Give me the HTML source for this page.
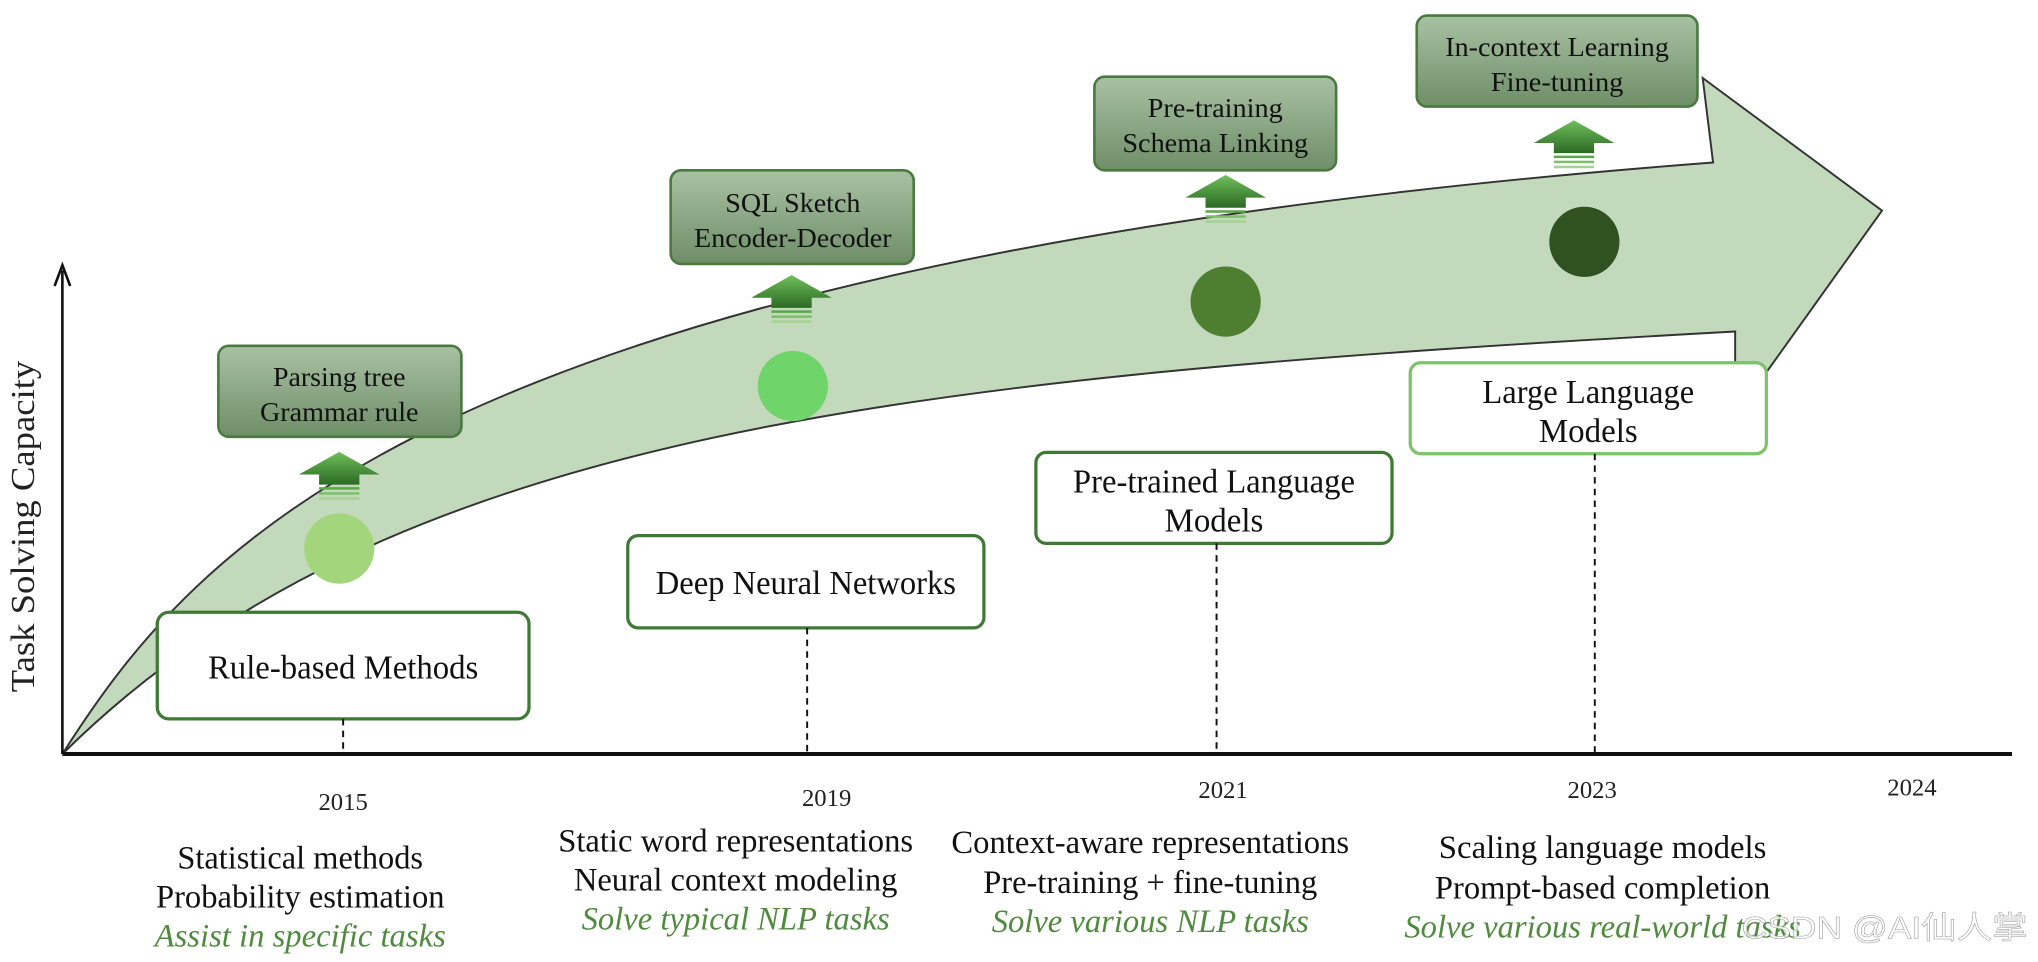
<!DOCTYPE html>
<html><head><meta charset="utf-8"><style>html,body{margin:0;padding:0;background:#fff}svg{display:block}</style></head>
<body>
<svg width="2038" height="962" viewBox="0 0 1568 740" preserveAspectRatio="none" xmlns="http://www.w3.org/2000/svg" font-family="'Liberation Serif', serif">
<defs>
<linearGradient id="g" x1="0" y1="0" x2="0" y2="1"><stop offset="0" stop-color="#a9c1a3"/><stop offset="1" stop-color="#6e8e68"/></linearGradient>
<linearGradient id="a" x1="0" y1="0" x2="0" y2="1"><stop offset="0" stop-color="#6fbf5a"/><stop offset="1" stop-color="#2c6a25"/></linearGradient>
<symbol id="up" viewBox="0 0 64 38"><polygon points="32,0 64,18 48,18 48,26 16,26 16,18 0,18" fill="url(#a)"/><rect x="16" y="28" width="32" height="2" fill="#5aa84a"/><rect x="16" y="32" width="32" height="2" fill="#7cbf6a"/><rect x="16" y="36" width="32" height="2" fill="#a5d394"/></symbol>
</defs>
<path d="M48,580 C150,420 330,200 1318,125 L1310,60 L1448,162 L1360,285 L1335,280 L1335,255 C700,290 300,330 48,580 Z" fill="#c2d9bc" stroke="#333" stroke-width="1.5"/>
<line x1="48" y1="580" x2="1548" y2="580" stroke="#111" stroke-width="3"/>
<line x1="48" y1="580" x2="48" y2="208" stroke="#111" stroke-width="2"/>
<polyline points="42,220 48,204 54,220" fill="none" stroke="#111" stroke-width="2"/>
<text transform="translate(26,405) rotate(-90)" text-anchor="middle" font-size="26" fill="#222" textLength="255" lengthAdjust="spacingAndGlyphs">Task Solving Capacity</text>
<circle cx="261" cy="422" r="27" fill="#a3d67c"/>
<circle cx="610" cy="297" r="27" fill="#6fd46a"/>
<circle cx="943" cy="232" r="27" fill="#4e7f31"/>
<circle cx="1219" cy="186" r="27" fill="#2f5220"/>
<g stroke="#4a7a40" stroke-width="2" fill="url(#g)">
<rect x="168" y="266" width="187" height="70" rx="8"/>
<rect x="516" y="131" width="187" height="72" rx="8"/>
<rect x="842" y="59" width="186" height="72" rx="8"/>
<rect x="1090" y="12" width="216" height="70" rx="8"/>
</g>
<g font-size="21" fill="#111" text-anchor="middle">
<text x="261" y="297" textLength="102" lengthAdjust="spacingAndGlyphs">Parsing tree</text><text x="261" y="324" textLength="122" lengthAdjust="spacingAndGlyphs">Grammar rule</text>
<text x="610" y="163" textLength="104" lengthAdjust="spacingAndGlyphs">SQL Sketch</text><text x="610" y="190" textLength="152" lengthAdjust="spacingAndGlyphs">Encoder-Decoder</text>
<text x="935" y="90" textLength="104" lengthAdjust="spacingAndGlyphs">Pre-training</text><text x="935" y="117" textLength="143" lengthAdjust="spacingAndGlyphs">Schema Linking</text>
<text x="1198" y="43" textLength="172" lengthAdjust="spacingAndGlyphs">In-context Learning</text><text x="1198" y="70" textLength="102" lengthAdjust="spacingAndGlyphs">Fine-tuning</text>
</g>
<use href="#up" x="230" y="347" width="62" height="38"/>
<use href="#up" x="578" y="211" width="62" height="38"/>
<use href="#up" x="912" y="134" width="62" height="38"/>
<use href="#up" x="1180" y="92" width="62" height="38"/>
<g fill="#fff" stroke="#3f7a35" stroke-width="2.5">
<rect x="121" y="471" width="286" height="82" rx="9"/>
<rect x="483" y="412" width="274" height="71" rx="8"/>
<rect x="797" y="348" width="274" height="70" rx="8"/>
<rect x="1085" y="279" width="274" height="70" rx="8" stroke="#7cc46a"/>
</g>
<g font-size="26" fill="#111" text-anchor="middle">
<text x="264" y="522" textLength="208" lengthAdjust="spacingAndGlyphs">Rule-based Methods</text>
<text x="620" y="457" textLength="231" lengthAdjust="spacingAndGlyphs">Deep Neural Networks</text>
<text x="934" y="379" textLength="217" lengthAdjust="spacingAndGlyphs">Pre-trained Language</text><text x="934" y="409" textLength="76" lengthAdjust="spacingAndGlyphs">Models</text>
<text x="1222" y="310" textLength="163" lengthAdjust="spacingAndGlyphs">Large Language</text><text x="1222" y="340" textLength="76" lengthAdjust="spacingAndGlyphs">Models</text>
</g>
<g stroke="#111" stroke-width="1.5" stroke-dasharray="5,4">
<line x1="264" y1="553" x2="264" y2="580"/>
<line x1="621" y1="483" x2="621" y2="580"/>
<line x1="936" y1="418" x2="936" y2="580"/>
<line x1="1227" y1="349" x2="1227" y2="580"/>
</g>
<g font-size="19" fill="#222" text-anchor="middle">
<text x="264" y="623">2015</text><text x="636" y="620">2019</text><text x="941" y="614">2021</text><text x="1225" y="614">2023</text><text x="1471" y="612">2024</text>
</g>
<g font-size="25" fill="#111" text-anchor="middle">
<text x="231" y="668" textLength="189" lengthAdjust="spacingAndGlyphs">Statistical methods</text><text x="231" y="698" textLength="222" lengthAdjust="spacingAndGlyphs">Probability estimation</text>
<text x="231" y="728" font-style="italic" fill="#4f8a3e" textLength="224" lengthAdjust="spacingAndGlyphs">Assist in specific tasks</text>
<text x="566" y="655" textLength="273" lengthAdjust="spacingAndGlyphs">Static word representations</text><text x="566" y="685" textLength="249" lengthAdjust="spacingAndGlyphs">Neural context modeling</text>
<text x="566" y="715" font-style="italic" fill="#4f8a3e" textLength="237" lengthAdjust="spacingAndGlyphs">Solve typical NLP tasks</text>
<text x="885" y="656" textLength="306" lengthAdjust="spacingAndGlyphs">Context-aware representations</text><text x="885" y="687" textLength="257" lengthAdjust="spacingAndGlyphs">Pre-training + fine-tuning</text>
<text x="885" y="717" font-style="italic" fill="#4f8a3e" textLength="244" lengthAdjust="spacingAndGlyphs">Solve various NLP tasks</text>
<text x="1233" y="660" textLength="252" lengthAdjust="spacingAndGlyphs">Scaling language models</text><text x="1233" y="691" textLength="258" lengthAdjust="spacingAndGlyphs">Prompt-based completion</text>
<text x="1233" y="721" font-style="italic" fill="#4f8a3e" textLength="305" lengthAdjust="spacingAndGlyphs">Solve various real-world tasks</text>
</g>
<text x="1340" y="722" font-family="'Liberation Sans','Noto Sans CJK SC',sans-serif" font-size="24" fill="#fff" fill-opacity="0.75" stroke="#999" stroke-width="0.4" textLength="220" lengthAdjust="spacingAndGlyphs">CSDN @AI仙人掌</text>
</svg>
</body></html>
